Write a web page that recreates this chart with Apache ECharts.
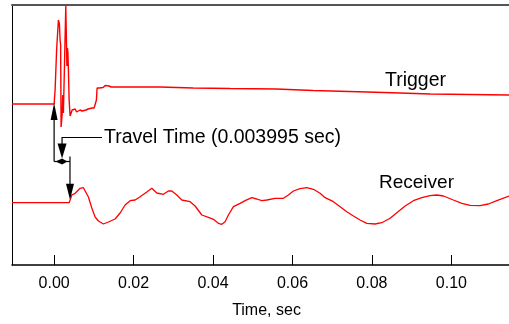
<!DOCTYPE html>
<html><head><meta charset="utf-8">
<script src="https://cdn.jsdelivr.net/npm/echarts@6/dist/echarts.min.js"></script>
<style>html,body{margin:0;padding:0;background:#fff}#c{width:509px;height:324px}</style>
</head><body><div id="c"></div>
<script>
// ---- data (time in sec, amplitude in arbitrary units) ----
const triggerTime = [-0.0106, 0, 0.00025, 0.00063, 0.00108, 0.00133, 0.00151, 0.00164, 0.00176, 0.00201, 0.00219, 0.00234, 0.00264, 0.00294, 0.00310, 0.00322, 0.00335, 0.00347, 0.00360, 0.00378, 0.00403, 0.00428, 0.00453, 0.00491, 0.00529, 0.00566, 0.00604, 0.00654, 0.00705, 0.00755, 0.00805, 0.00856, 0.00906, 0.00956, 0.01007, 0.01045, 0.01065, 0.01082, 0.01133, 0.01183, 0.01233, 0.01284, 0.01334, 0.01384, 0.01435, 0.01485, 0.01561, 0.01661, 0.01913, 0.02668, 0.03499, 0.04430, 0.05588, 0.06519, 0.07878, 0.08709, 0.09464, 0.10471, 0.1145];
const triggerValue = [161, 161, 175, 215, 245, 241, 225, 220, 138, 150, 170, 152, 205, 259, 225, 199, 217, 213, 195, 165, 149, 148, 155, 153, 156, 153, 154, 155, 154, 155, 155, 156, 156, 157, 157, 157, 165, 177, 177, 179, 177.5, 179.5, 178, 179, 178, 178.5, 178, 178, 178, 178, 177, 176.5, 176, 174.5, 173, 172, 171, 170.5, 170];
const receiverTime = [-0.0106, 0.00378, 0.00403, 0.00446, 0.00478, 0.00529, 0.00586, 0.00617, 0.00654, 0.00697, 0.00737, 0.00768, 0.00805, 0.00863, 0.00949, 0.01032, 0.01115, 0.01241, 0.01367, 0.01535, 0.01661, 0.01787, 0.01913, 0.02039, 0.02165, 0.02333, 0.02459, 0.02585, 0.02751, 0.02877, 0.02962, 0.03088, 0.03214, 0.03423, 0.03549, 0.03718, 0.03884, 0.04010, 0.04135, 0.04221, 0.04304, 0.04387, 0.04513, 0.04682, 0.04807, 0.04976, 0.05102, 0.05228, 0.05354, 0.05562, 0.05771, 0.05897, 0.06023, 0.06192, 0.06360, 0.06527, 0.06695, 0.06821, 0.07030, 0.07199, 0.07367, 0.07533, 0.07702, 0.07871, 0.08080, 0.08248, 0.08457, 0.08626, 0.08835, 0.09044, 0.09255, 0.09464, 0.09632, 0.09799, 0.10050, 0.10262, 0.10471, 0.10722, 0.10931, 0.11143, 0.1145];
const receiverValue = [62.3, 62.3, 65, 70, 69, 71.7, 74, 73, 76.7, 75, 77.3, 75, 73, 68, 57, 48, 44, 41, 43, 46, 52, 60, 64.3, 65, 68.3, 73, 76.7, 72, 70.7, 74, 74, 70, 65, 63.3, 59, 50, 47.7, 45.7, 41.7, 40.7, 43.3, 50, 58.3, 61.7, 64.3, 67.3, 66, 64.3, 65, 66.7, 66.7, 70, 74, 76.3, 77.3, 75.7, 71.7, 67.3, 63.3, 58.3, 53.3, 49, 45, 41.7, 41, 42.3, 46.7, 52.3, 59, 64.3, 67.3, 69.3, 70, 69, 65, 61.7, 59.7, 59.3, 61, 64.3, 69];
const xTicks = [0, 0.02, 0.04, 0.06, 0.08, 0.10];
const travelTime = 0.003995;
const seriesNames = ['Trigger', 'Receiver'];
const travelLabel = 'Travel Time (0.003995 sec)';
const xAxisName = 'Time, sec';

const FONT = '"Liberation Sans", Arial, sans-serif';
const zip = (a, b) => a.map((t, i) => [t, b[i]]);
const chart = echarts.init(document.getElementById('c'), null, {renderer: 'canvas'});
const X_MIN = -0.0106, X_MAX = 0.1145;
chart.setOption({
  animation: false,
  backgroundColor: '#fff',
  grid: {left: 12, right: 0, top: 5, bottom: 59},
  xAxis: [{
    type: 'value', min: X_MIN, max: X_MAX, position: 'bottom',
    name: xAxisName, nameLocation: 'middle', nameGap: 38,
    nameTextStyle: {fontFamily: FONT, fontSize: 16, color: '#000', padding: [0, 0, 0, 12]},
    axisLine: {show: true, onZero: false, lineStyle: {color: '#000', width: 1.5}},
    axisTick: {show: true, inside: true, length: 10, customValues: xTicks, lineStyle: {color: '#000', width: 1}},
    axisLabel: {show: true, customValues: xTicks, formatter: v => v.toFixed(2), margin: 11, fontSize: 16, color: '#000', fontFamily: FONT},
    splitLine: {show: false}
  }, {
    type: 'value', min: X_MIN, max: X_MAX, position: 'top',
    axisLine: {show: true, onZero: false, lineStyle: {color: '#555', width: 2}},
    axisTick: {show: false}, axisLabel: {show: false}, splitLine: {show: false}
  }],
  yAxis: {
    type: 'value', min: 0, max: 260,
    axisLine: {show: true, onZero: false, lineStyle: {color: '#000', width: 1}},
    axisTick: {show: false}, axisLabel: {show: false}, splitLine: {show: false}
  },
  series: [
    {name: seriesNames[0], type: 'line', data: zip(triggerTime, triggerValue), showSymbol: false, symbol: 'none',
     lineStyle: {color: '#ff0000', width: 1.4}, z: 2},
    {name: seriesNames[1], type: 'line', data: zip(receiverTime, receiverValue), showSymbol: false, symbol: 'none',
     lineStyle: {color: '#ff0000', width: 1.3}, z: 2}
  ]
});

// ---- annotations placed via the axes ----
const pT = chart.convertToPixel({xAxisIndex: 0, yAxisIndex: 0}, [0, triggerValue[0]]);
const pR = chart.convertToPixel({xAxisIndex: 0, yAxisIndex: 0}, [travelTime, receiverValue[0]]);
const x0 = pT[0], yTrig = pT[1], x1 = pR[0], yRec = pR[1];
const xm = (x0 + x1) / 2;
const yMid = 161.5, yLead = 137.5, xText = 104;
const ln = {stroke: '#000', lineWidth: 1.2};
chart.setOption({
  graphic: [
    {type: 'line', shape: {x1: x0, y1: yTrig + 12, x2: x0, y2: yMid}, style: ln, z: 10},
    {type: 'polygon', shape: {points: [[x0, yTrig - 1], [x0 - 3.5, yTrig + 16], [x0 + 3.5, yTrig + 16]]}, style: {fill: '#000'}, z: 10},
    {type: 'line', shape: {x1: x0, y1: yMid, x2: x1, y2: yMid}, style: ln, z: 10},
    {type: 'polygon', shape: {points: [[x0 + 1.5, yMid], [xm, yMid - 3], [x1 - 2.5, yMid], [xm, yMid + 3]]}, style: {fill: '#000'}, z: 10},
    {type: 'polyline', shape: {points: [[xText - 2, yLead], [xm, yLead], [xm, yMid - 14]]}, style: ln, z: 10},
    {type: 'polygon', shape: {points: [[xm, yMid - 3], [xm - 4.5, yMid - 18], [xm + 4.5, yMid - 18]]}, style: {fill: '#000'}, z: 10},
    {type: 'line', shape: {x1: x1, y1: yMid - 5, x2: x1, y2: yRec - 15}, style: ln, z: 10},
    {type: 'polygon', shape: {points: [[x1, yRec - 3], [x1 - 4, yRec - 19], [x1 + 4, yRec - 19]]}, style: {fill: '#000'}, z: 10},
    {type: 'text', x: xText, y: 138, style: {text: travelLabel, fill: '#000', font: '19.5px ' + FONT, textVerticalAlign: 'middle', verticalAlign: 'middle'}, z: 10},
    {type: 'text', x: 385, y: 81, style: {text: seriesNames[0], fill: '#000', font: '19.5px ' + FONT, textVerticalAlign: 'middle', verticalAlign: 'middle'}, z: 10},
    {type: 'text', x: 379, y: 182.5, style: {text: seriesNames[1], fill: '#000', font: '19px ' + FONT, textVerticalAlign: 'middle', verticalAlign: 'middle'}, z: 10}
  ]
});
</script></body></html>
